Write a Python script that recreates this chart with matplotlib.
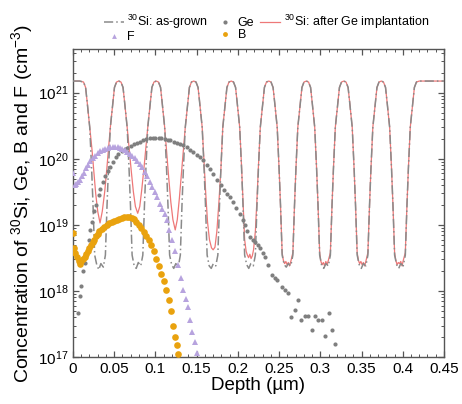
import numpy as np
import matplotlib
matplotlib.use("Agg")
import matplotlib.pyplot as plt
from matplotlib.lines import Line2D
from matplotlib.ticker import MultipleLocator, FormatStrFormatter, LogLocator

plt.rcParams["font.family"] = ["Liberation Sans", "DejaVu Sans"]
plt.rcParams["mathtext.fontset"] = "custom"
plt.rcParams["mathtext.rm"] = "Liberation Sans"
plt.rcParams["mathtext.it"] = "Liberation Sans:italic"

# --- 30Si profile, as-grown superlattice (depth in um, conc in cm^-3)
si_grown_depth = [
    0.0000, 0.0080,
    0.0128, 0.0153, 0.0173, 0.0203, 0.0226, 0.0243, 0.0263, 0.0288, 0.0313, 0.0338, 0.0368, 0.0393, 0.0413, 0.0430, 0.0453, 0.0483, 0.0503, 0.0528, 0.0555,
    0.0582, 0.0607, 0.0627, 0.0657, 0.0680, 0.0697, 0.0717, 0.0742, 0.0767, 0.0792, 0.0822, 0.0847, 0.0867, 0.0884, 0.0907, 0.0937, 0.0957, 0.0982, 0.1010,
    0.1037, 0.1062, 0.1082, 0.1112, 0.1135, 0.1152, 0.1172, 0.1197, 0.1222, 0.1247, 0.1277, 0.1302, 0.1322, 0.1339, 0.1362, 0.1392, 0.1412, 0.1437, 0.1465,
    0.1492, 0.1517, 0.1537, 0.1567, 0.1590, 0.1607, 0.1627, 0.1652, 0.1677, 0.1702, 0.1732, 0.1757, 0.1777, 0.1794, 0.1817, 0.1847, 0.1867, 0.1892, 0.1920,
    0.1947, 0.1972, 0.1992, 0.2022, 0.2045, 0.2062, 0.2082, 0.2107, 0.2132, 0.2157, 0.2187, 0.2212, 0.2232, 0.2249, 0.2272, 0.2302, 0.2322, 0.2347, 0.2375,
    0.2402, 0.2427, 0.2447, 0.2477, 0.2500, 0.2517, 0.2537, 0.2562, 0.2587, 0.2612, 0.2642, 0.2667, 0.2687, 0.2704, 0.2727, 0.2757, 0.2777, 0.2802, 0.2830,
    0.2857, 0.2882, 0.2902, 0.2932, 0.2955, 0.2972, 0.2992, 0.3017, 0.3042, 0.3067, 0.3097, 0.3122, 0.3142, 0.3159, 0.3182, 0.3212, 0.3232, 0.3257, 0.3285,
    0.3312, 0.3337, 0.3357, 0.3387, 0.3410, 0.3427, 0.3447, 0.3472, 0.3497, 0.3522, 0.3552, 0.3577, 0.3597, 0.3614, 0.3637, 0.3667, 0.3687, 0.3712, 0.3740,
    0.3766, 0.3791, 0.3811, 0.3841, 0.3864, 0.3881, 0.3901, 0.3926, 0.3951, 0.3976, 0.4006, 0.4031, 0.4051, 0.4068, 0.4091, 0.4121, 0.4141, 0.4166, 0.4200,
    0.4500,
]
si_grown_conc = [
    1.5e21, 1.5e21,
    1.45e21, 1.2e21, 7e20, 3e20, 7e19, 2e19, 3.5e18, 2.5e18, 2.1e18, 2.6e18, 2.3e18, 3.5e18, 2e19, 7e19, 3e20, 7e20, 1.2e21, 1.45e21, 1.5e21,
    1.45e21, 1.2e21, 7e20, 3e20, 7e19, 2e19, 3.5e18, 2.4e18, 2.2e18, 2.7e18, 2.4e18, 3.5e18, 2e19, 7e19, 3e20, 7e20, 1.2e21, 1.45e21, 1.5e21,
    1.45e21, 1.2e21, 7e20, 3e20, 7e19, 2e19, 3.5e18, 2.5e18, 2.2e18, 2.6e18, 2.3e18, 3.5e18, 2e19, 7e19, 3e20, 7e20, 1.2e21, 1.45e21, 1.5e21,
    1.45e21, 1.2e21, 7e20, 3e20, 7e19, 2e19, 3.5e18, 2.4e18, 2.2e18, 2.6e18, 2.4e18, 3.5e18, 2e19, 7e19, 3e20, 7e20, 1.2e21, 1.45e21, 1.5e21,
    1.45e21, 1.2e21, 7e20, 3e20, 7e19, 2e19, 3.5e18, 2.5e18, 2.2e18, 2.6e18, 2.4e18, 3.5e18, 2e19, 7e19, 3e20, 7e20, 1.2e21, 1.45e21, 1.5e21,
    1.45e21, 1.2e21, 7e20, 3e20, 7e19, 2e19, 3.5e18, 2.5e18, 2.3e18, 2.6e18, 2.4e18, 3.5e18, 2e19, 7e19, 3e20, 7e20, 1.2e21, 1.45e21, 1.5e21,
    1.45e21, 1.2e21, 7e20, 3e20, 7e19, 2e19, 3.5e18, 2.4e18, 2.2e18, 2.6e18, 2.4e18, 3.5e18, 2e19, 7e19, 3e20, 7e20, 1.2e21, 1.45e21, 1.5e21,
    1.45e21, 1.2e21, 7e20, 3e20, 7e19, 2e19, 3.5e18, 2.5e18, 2.2e18, 2.6e18, 2.4e18, 3.5e18, 2e19, 7e19, 3e20, 7e20, 1.2e21, 1.45e21, 1.5e21,
    1.45e21, 1.2e21, 7e20, 3e20, 7e19, 2e19, 3.5e18, 2.5e18, 2.2e18, 2.6e18, 2.4e18, 3.5e18, 2e19, 7e19, 3e20, 7e20, 1.2e21, 1.45e21, 1.5e21,
    1.5e21,
]

# --- 30Si profile after Ge implantation
si_impl_depth = [
    0.0000, 0.0080,
    0.0128, 0.0153, 0.0173, 0.0203, 0.0230, 0.0255, 0.0275, 0.0300, 0.0328, 0.0355, 0.0385, 0.0410, 0.0430, 0.0453, 0.0483, 0.0503, 0.0528, 0.0555,
    0.0582, 0.0607, 0.0627, 0.0657, 0.0682, 0.0707, 0.0732, 0.0757, 0.0785, 0.0810, 0.0835, 0.0862, 0.0884, 0.0907, 0.0937, 0.0957, 0.0982, 0.1010,
    0.1037, 0.1062, 0.1082, 0.1112, 0.1137, 0.1162, 0.1187, 0.1212, 0.1240, 0.1265, 0.1290, 0.1315, 0.1340, 0.1362, 0.1392, 0.1412, 0.1437, 0.1465,
    0.1492, 0.1517, 0.1537, 0.1567, 0.1590, 0.1610, 0.1632, 0.1655, 0.1680, 0.1700, 0.1722, 0.1745, 0.1770, 0.1794, 0.1817, 0.1847, 0.1867, 0.1892, 0.1920,
    0.1947, 0.1972, 0.1992, 0.2022, 0.2045, 0.2062, 0.2082, 0.2100, 0.2115, 0.2130, 0.2145, 0.2160, 0.2175, 0.2190, 0.2212, 0.2232, 0.2249, 0.2272, 0.2302, 0.2322, 0.2347, 0.2375,
    0.2402, 0.2427, 0.2447, 0.2477, 0.2500, 0.2517, 0.2537, 0.2552, 0.2567, 0.2582, 0.2597, 0.2612, 0.2627, 0.2642, 0.2667, 0.2687, 0.2704, 0.2727, 0.2757, 0.2777, 0.2802, 0.2830,
    0.2857, 0.2882, 0.2902, 0.2932, 0.2955, 0.2972, 0.2992, 0.3007, 0.3022, 0.3037, 0.3052, 0.3067, 0.3082, 0.3097, 0.3122, 0.3142, 0.3159, 0.3182, 0.3212, 0.3232, 0.3257, 0.3285,
    0.3312, 0.3337, 0.3357, 0.3387, 0.3410, 0.3427, 0.3447, 0.3462, 0.3477, 0.3492, 0.3507, 0.3522, 0.3537, 0.3552, 0.3577, 0.3597, 0.3614, 0.3637, 0.3667, 0.3687, 0.3712, 0.3740,
    0.3766, 0.3791, 0.3811, 0.3841, 0.3864, 0.3881, 0.3901, 0.3916, 0.3931, 0.3946, 0.3961, 0.3976, 0.3991, 0.4006, 0.4031, 0.4051, 0.4068, 0.4091, 0.4121, 0.4141, 0.4166, 0.4200,
    0.4500,
]
si_impl_conc = [
    1.5e21, 1.5e21,
    1.45e21, 1.2e21, 7e20, 3e20, 1.4e20, 6e19, 3e19, 1.6e19, 1.07e19, 1.6e19, 3.2e19, 7e19, 1.4e20, 3e20, 7e20, 1.2e21, 1.45e21, 1.5e21,
    1.45e21, 1.2e21, 7e20, 3e20, 1.4e20, 6.5e19, 3.2e19, 1.9e19, 1.5e19, 1.9e19, 3.5e19, 7.5e19, 1.5e20, 3e20, 7e20, 1.2e21, 1.45e21, 1.5e21,
    1.45e21, 1.2e21, 7e20, 3e20, 1.2e20, 5e19, 2.2e19, 1.2e19, 8.4e18, 1.2e19, 2.5e19, 6e19, 1.4e20, 3e20, 7e20, 1.2e21, 1.45e21, 1.5e21,
    1.45e21, 1.2e21, 7e20, 3e20, 9e19, 3e19, 1.1e19, 6e18, 4.5e18, 4.2e18, 4.6e18, 8e18, 2.2e19, 7e19, 3e20, 7e20, 1.2e21, 1.45e21, 1.5e21,
    1.45e21, 1.2e21, 7e20, 3e20, 7.5e19, 2.4e19, 6e18, 4e18, 3.5e18, 3.2e18, 3.6e18, 3.1e18, 3.4e18, 4.2e18, 8e18, 2.5e19, 7.5e19, 3e20, 7e20, 1.2e21, 1.45e21, 1.5e21,
    1.45e21, 1.2e21, 7e20, 3e20, 7e19, 2e19, 3.8e18, 2.9e18, 2.6e18, 2.8e18, 2.5e18, 2.7e18, 2.4e18, 2.8e18, 3.8e18, 2e19, 7e19, 3e20, 7e20, 1.2e21, 1.45e21, 1.5e21,
    1.45e21, 1.2e21, 7e20, 3e20, 7e19, 2e19, 3.8e18, 2.8e18, 2.5e18, 2.7e18, 2.4e18, 2.8e18, 2.5e18, 2.9e18, 3.8e18, 2e19, 7e19, 3e20, 7e20, 1.2e21, 1.45e21, 1.5e21,
    1.45e21, 1.2e21, 7e20, 3e20, 7e19, 2e19, 3.8e18, 2.9e18, 2.6e18, 2.8e18, 2.5e18, 2.7e18, 2.4e18, 2.8e18, 3.8e18, 2e19, 7e19, 3e20, 7e20, 1.2e21, 1.45e21, 1.5e21,
    1.45e21, 1.2e21, 7e20, 3e20, 7e19, 2e19, 3.8e18, 2.9e18, 2.5e18, 2.7e18, 2.6e18, 2.8e18, 2.4e18, 2.9e18, 3.8e18, 2e19, 7e19, 3e20, 7e20, 1.2e21, 1.45e21, 1.5e21,
    1.5e21,
]

# --- implanted Ge
ge_depth = [
    0.0060, 0.0085, 0.0100, 0.0120, 0.0140, 0.0160, 0.0190, 0.0210, 0.0230, 0.0260,
    0.0280, 0.0310, 0.0330, 0.0360, 0.0390, 0.0420, 0.0450, 0.0490, 0.0520, 0.0550,
    0.0590, 0.0630, 0.0660, 0.0700, 0.0740, 0.0780, 0.0810, 0.0850, 0.0890, 0.0930,
    0.0965, 0.1000, 0.1040, 0.1070, 0.1110, 0.1150, 0.1180, 0.1220, 0.1260, 0.1300,
    0.1340, 0.1380, 0.1420, 0.1460, 0.1500, 0.1540, 0.1580, 0.1620, 0.1660, 0.1700,
    0.1750, 0.1790, 0.1830, 0.1870, 0.1910, 0.1945, 0.1980, 0.2020, 0.2060, 0.2090,
    0.2115, 0.2145, 0.2180, 0.2210, 0.2245, 0.2270, 0.2305, 0.2330, 0.2365, 0.2410,
    0.2450, 0.2480, 0.2530, 0.2570, 0.2610, 0.2650, 0.2690, 0.2730, 0.2770, 0.2810,
    0.2850, 0.2895, 0.2935, 0.2975, 0.3015, 0.3057, 0.3100, 0.3140, 0.3180,
]
ge_conc = [
    4.6e17, 8.5e17, 1.2e18, 2.0e18, 2.7e18, 3.5e18, 6.0e18, 8.5e18, 1.1e19, 1.6e19,
    2.0e19, 2.8e19, 3.5e19, 4.4e19, 5.5e19, 6.5e19, 7.6e19, 9.0e19, 1.05e20, 1.2e20,
    1.3e20, 1.4e20, 1.45e20, 1.55e20, 1.65e20, 1.75e20, 1.8e20, 1.9e20, 2.0e20, 2.05e20,
    2.1e20, 2.1e20, 2.1e20, 2.05e20, 2.0e20, 1.95e20, 1.9e20, 1.8e20, 1.75e20, 1.7e20,
    1.6e20, 1.5e20, 1.35e20, 1.25e20, 1.15e20, 1.05e20, 9.7e19, 8.2e19, 6.9e19, 5.8e19,
    4.8e19, 4.0e19, 3.4e19, 2.9e19, 2.6e19, 2.2e19, 1.8e19, 1.45e19, 1.2e19, 1.0e19,
    8.0e18, 6.5e18, 6.0e18, 5.6e18, 5.0e18, 4.4e18, 3.7e18, 3.3e18, 2.5e18, 1.75e18,
    1.6e18, 1.45e18, 1.15e18, 1.05e18, 9.2e17, 4.1e17, 5.2e17, 7.3e17, 3.6e17, 4.2e17,
    4.2e17, 2.6e17, 4.2e17, 3.6e17, 3.6e17, 2.1e17, 4.7e17, 2.6e17, 1.56e17,
]

# --- F
f_depth = [
    0.0000, 0.0020, 0.0040, 0.0065, 0.0085, 0.0110, 0.0135, 0.0160, 0.0185, 0.0210,
    0.0240, 0.0270, 0.0300, 0.0330, 0.0360, 0.0390, 0.0420, 0.0450, 0.0480, 0.0510,
    0.0540, 0.0570, 0.0600, 0.0630, 0.0660, 0.0690, 0.0720, 0.0750, 0.0780, 0.0810,
    0.0840, 0.0870, 0.0900, 0.0930, 0.0960, 0.0990, 0.1020, 0.1050, 0.1080, 0.1110,
    0.1140, 0.1170, 0.1200, 0.1235, 0.1270, 0.1305, 0.1335, 0.1365, 0.1390, 0.1415,
    0.1445, 0.1475, 0.1510,
]
f_conc = [
    6.0e19, 4.0e19, 4.2e19, 4.5e19, 4.8e19, 5.4e19, 6.2e19, 7.2e19, 8.2e19, 9.2e19,
    1.03e20, 1.12e20, 1.22e20, 1.3e20, 1.37e20, 1.42e20, 1.46e20, 1.49e20, 1.5e20, 1.5e20,
    1.49e20, 1.46e20, 1.41e20, 1.36e20, 1.28e20, 1.2e20, 1.12e20, 1.03e20, 9.4e19, 8.4e19,
    7.4e19, 6.4e19, 5.4e19, 4.5e19, 3.8e19, 3.1e19, 2.6e19, 2.1e19, 1.75e19, 1.45e19,
    1.2e19, 8.5e18, 6.0e18, 4.0e18, 2.5e18, 1.6e18, 1.05e18, 7.5e17, 5.7e17, 3.6e17,
    2.4e17, 1.7e17, 1.15e17,
]

# --- B
b_depth = [
    0.0000, 0.0015, 0.0030, 0.0050, 0.0070, 0.0085, 0.0100, 0.0120, 0.0140, 0.0160,
    0.0180, 0.0200, 0.0220, 0.0240, 0.0260, 0.0280, 0.0300, 0.0320, 0.0350, 0.0380,
    0.0410, 0.0440, 0.0470, 0.0500, 0.0530, 0.0560, 0.0590, 0.0620, 0.0650, 0.0680,
    0.0710, 0.0740, 0.0770, 0.0800, 0.0830, 0.0860, 0.0890, 0.0920, 0.0950, 0.0980,
    0.1010, 0.1040, 0.1070, 0.1100, 0.1130, 0.1160, 0.1190, 0.1210, 0.1235, 0.1260,
    0.1275,
]
b_conc = [
    7.6e18, 4.5e18, 3.8e18, 3.3e18, 2.8e18, 2.6e18, 2.8e18, 3.0e18, 3.3e18, 3.6e18,
    4.0e18, 4.5e18, 5.0e18, 5.5e18, 6.0e18, 6.8e18, 7.4e18, 8.0e18, 8.6e18, 9.4e18,
    1.0e19, 1.06e19, 1.1e19, 1.15e19, 1.2e19, 1.24e19, 1.28e19, 1.32e19, 1.3e19, 1.3e19,
    1.27e19, 1.22e19, 1.12e19, 1.0e19, 9.0e18, 7.9e18, 6.8e18, 5.9e18, 4.9e18, 4.0e18,
    3.1e18, 2.4e18, 1.8e18, 1.4e18, 1.05e18, 7.3e17, 5.0e17, 3.0e17, 2.0e17, 1.5e17,
    1.1e17,
]

c_grown = "#8a8a8a"
c_impl = "#ee7878"
c_ge = "#7f7f7f"
c_f = "#b7a3de"
c_b = "#e9a20e"
dashdot = (0, (6, 2, 1, 2))

fig = plt.figure(figsize=(4.62, 4.04), dpi=100)
ax = fig.add_axes([0.158, 0.116, 0.803, 0.763])

ax.plot(si_impl_depth, si_impl_conc, color=c_impl, lw=0.9, zorder=2)
ax.plot(si_grown_depth, si_grown_conc, color=c_grown, lw=1.1, ls=dashdot, zorder=3)
ax.plot(ge_depth, ge_conc, ls="none", marker="o", ms=3, color=c_ge, mew=0, zorder=4)
ax.plot(f_depth, f_conc, ls="none", marker="^", ms=4, color=c_f, mew=0, zorder=4)
ax.plot(b_depth, b_conc, ls="none", marker="o", ms=4.8, color=c_b, mew=0, zorder=5)

ax.set_yscale("log")
ax.set_xlim(0, 0.45)
ax.set_ylim(1e17, 4.6e21)
ax.xaxis.set_major_locator(MultipleLocator(0.05))
ax.xaxis.set_minor_locator(MultipleLocator(0.01))
ax.xaxis.set_major_formatter(FormatStrFormatter("%g"))
ax.yaxis.set_major_locator(LogLocator(base=10, numticks=10))
ax.yaxis.set_minor_locator(LogLocator(base=10, subs=np.arange(2, 10), numticks=20))

for s in ax.spines.values():
    s.set_color("#555555")
    s.set_linewidth(1.0)
ax.tick_params(which="both", direction="in", top=True, right=True, color="#555555", labelsize=11)
ax.tick_params(which="major", length=4, width=0.9)
ax.tick_params(which="minor", length=2.2, width=0.7)

ax.set_xlabel("Depth (µm)", fontsize=13.5, labelpad=1)
ax.set_ylabel("Concentration of $^{30}$Si, Ge, B and F (cm$^{-3}$)", fontsize=14, labelpad=2)

handles = [
    Line2D([], [], color=c_grown, lw=1.1, ls=dashdot),
    Line2D([], [], ls="none", marker="^", ms=3.5, color=c_f, mew=0),
    Line2D([], [], ls="none", marker="o", ms=3, color=c_ge, mew=0),
    Line2D([], [], ls="none", marker="o", ms=3.5, color=c_b, mew=0),
    Line2D([], [], color=c_impl, lw=0.9),
]
labels = ["$^{30}$Si: as-grown", "F", "Ge", "B", "$^{30}$Si: after Ge implantation"]
fig.legend(handles, labels, ncol=3, loc="upper left", bbox_to_anchor=(0.215, 0.98),
           frameon=False, fontsize=9, handlelength=1.6, handletextpad=0.25,
           columnspacing=0.5, labelspacing=0.0, borderaxespad=0)

fig.savefig("out.png", dpi=100)
